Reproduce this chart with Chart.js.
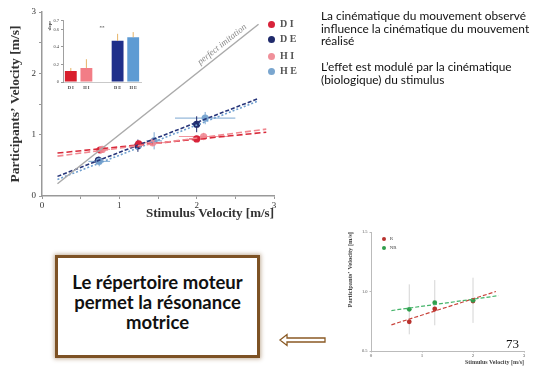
<!DOCTYPE html>
<html>
<head>
<meta charset="utf-8">
<script src="https://cdn.jsdelivr.net/npm/chart.js@4.4.1/dist/chart.umd.min.js"></script>
<style>
  body { margin: 0; background: #fff; width: 535px; height: 369px; overflow: hidden; position: relative; font-family: Lato, sans-serif; }
  .abs { position: absolute; }
  #mainWrap { left: 0; top: 0; width: 310px; height: 225px; }
  #insetWrap { left: 40px; top: 12px; width: 105px; height: 85px; }
  #smallWrap { left: 340px; top: 225px; width: 195px; height: 144px; }
  .legend { font-family: 'Liberation Serif', serif; font-weight: bold; color: #555; }
  .legend div { position: absolute; white-space: nowrap; }
  .legend span { display: inline-block; border-radius: 50%; vertical-align: middle; }
  #notes { left: 321px; top: 10px; font-size: 11.9px; line-height: 12.7px; color: #111; white-space: nowrap; }
  #notes p { margin: 0 0 12.7px 0; }
  #box { left: 55px; top: 255px; width: 199px; height: 97px; border: 3px solid #7d5224;
         box-shadow: 0 0 4px 1px rgba(125,82,36,0.45); font-weight: bold; font-size: 18.5px;
         line-height: 20px; text-align: center; color: #111; display: flex; align-items: center; justify-content: center; }
  #box div { margin-bottom: 10px; }
  #page { left: 506px; top: 336px; font-family: 'Liberation Serif', serif; font-size: 13px; color: #111; }
</style>
</head>
<body>
<div id="mainWrap" class="abs"><canvas id="mainChart"></canvas></div>
<div id="insetWrap" class="abs"><canvas id="insetChart"></canvas></div>
<div id="smallWrap" class="abs"><canvas id="smallChart"></canvas></div>

<div class="legend abs" style="left:268px;top:18px;font-size:10px;">
  <div style="top:0px"><span style="width:7px;height:7px;background:#d8233a"></span>&nbsp; D I</div>
  <div style="top:15px"><span style="width:7px;height:7px;background:#1f2a6b"></span>&nbsp; D E</div>
  <div style="top:32px"><span style="width:7px;height:7px;background:#f0909a"></span>&nbsp; H I</div>
  <div style="top:47px"><span style="width:7px;height:7px;background:#7aa6cf"></span>&nbsp; H E</div>
</div>
<div class="legend abs" style="left:382px;top:236px;font-size:5px;font-weight:normal;color:#444">
  <div style="top:0px"><span style="width:4px;height:4px;background:#b8322e"></span>&nbsp;&nbsp; R</div>
  <div style="top:9px"><span style="width:4px;height:4px;background:#2f9e4c"></span>&nbsp;&nbsp; NR</div>
</div>

<div id="notes" class="abs">
  <p>La cinématique du mouvement observé<br>influence la cinématique du mouvement<br>réalisé</p>
  <p>L’effet est modulé par la cinématique<br>(biologique) du stimulus</p>
</div>
<div id="box" class="abs"><div>Le répertoire moteur<br>permet la résonance<br>motrice</div></div>
<svg class="abs" style="left:278px;top:333px" width="50" height="14">
  <polygon points="2,7 9,1.5 9,5 47,5 47,9 9,9 9,12.5" fill="#fff" stroke="#8a5a24" stroke-width="1.3"/>
</svg>
<div id="page" class="abs">73</div>

<script>
// main plot: stimulus vs participants' velocity
const diX = [0.75, 1.25, 2.0],  diY = [0.75, 0.85, 0.93];
const deX = [0.73, 1.24, 2.0],  deY = [0.58, 0.82, 1.17];
const hiX = [0.78, 1.43, 2.09], hiY = [0.76, 0.87, 0.97];
const heX = [0.74, 1.45, 2.11], heY = [0.565, 0.90, 1.27];
// error half-widths
const diXErr = [0.05, 0.05, 0.1],  diYErr = [0.04, 0.04, 0.05];
const deXErr = [0.05, 0.05, 0.05], deYErr = [0.06, 0.1, 0.13];
const hiXErr = [0.1, 0.2, 0.32],   hiYErr = [0.05, 0.06, 0.06];
const heXErr = [0.14, 0.1, 0.39],  heYErr = [0.08, 0.14, 0.1];
// regression lines (start, end)
const fitDIx = [0.2, 2.9], fitDIy = [0.70, 1.04];
const fitHIx = [0.2, 2.9], fitHIy = [0.65, 1.09];
const fitDEx = [0.2, 2.8], fitDEy = [0.32, 1.59];
const fitHEx = [0.2, 2.8], fitHEy = [0.27, 1.55];
const idealX = [0.2, 2.8], idealY = [0.2, 2.8];
const mainTicks = [0, 1, 2, 3];

// inset: slopes
const slopeLabels = ['D I', 'H I', '', 'D E', 'H E'];
const slopeVals = [0.125, 0.16, null, 0.47, 0.51];
const slopeErrTop = [0.16, 0.26, null, 0.55, 0.57];

// small plot: R / NR
const rX = [0.75, 1.25, 2.0],  rY = [0.745, 0.853, 0.92];
const nrX = [0.75, 1.25, 2.0], nrY = [0.85, 0.906, 0.926];
const nrYErr = [0.21, 0.19, 0.19];
const fitRx = [0.4, 2.45], fitRy = [0.72, 1.0];
const fitNRx = [0.4, 2.5], fitNRy = [0.84, 0.965];

const pts = (xs, ys) => xs.map((x, i) => ({ x, y: ys[i] }));
const serif = 'Liberation Serif';

const errorBars = {
  id: 'errorBars',
  beforeDatasetsDraw(chart) {
    const { ctx, scales: { x, y } } = chart;
    chart.data.datasets.forEach(ds => {
      if (!ds.errX && !ds.errY) return;
      ctx.save();
      ctx.strokeStyle = ds.errColor || ds.backgroundColor;
      ctx.lineWidth = 1;
      ds.data.forEach((p, i) => {
        const px = x.getPixelForValue(p.x), py = y.getPixelForValue(p.y);
        if (ds.errX) {
          ctx.beginPath();
          ctx.moveTo(x.getPixelForValue(p.x - ds.errX[i]), py);
          ctx.lineTo(x.getPixelForValue(p.x + ds.errX[i]), py);
          ctx.stroke();
        }
        if (ds.errY) {
          ctx.beginPath();
          ctx.moveTo(px, y.getPixelForValue(p.y - ds.errY[i]));
          ctx.lineTo(px, y.getPixelForValue(p.y + ds.errY[i]));
          ctx.stroke();
        }
      });
      ctx.restore();
    });
  }
};

const idealLabel = {
  id: 'idealLabel',
  afterDatasetsDraw(chart) {
    const { ctx, scales: { x, y } } = chart;
    const px = x.getPixelForValue(2.33), py = y.getPixelForValue(2.47);
    const ang = Math.atan2(y.getPixelForValue(0) - y.getPixelForValue(1), x.getPixelForValue(1) - x.getPixelForValue(0));
    ctx.save();
    ctx.translate(px, py);
    ctx.rotate(-ang);
    ctx.font = 'italic 9px ' + serif;
    ctx.fillStyle = '#888';
    ctx.textAlign = 'center';
    ctx.textBaseline = 'middle';
    ctx.fillText('perfect imitation', 0, 0);
    ctx.restore();
  }
};

const fitLine = (xs, ys, color, dash, width) => ({
  data: pts(xs, ys), showLine: true, borderColor: color, borderWidth: width || 1.6,
  borderDash: dash, pointRadius: 0, backgroundColor: color
});
const dots = (xs, ys, color, ex, ey, r) => ({
  data: pts(xs, ys), showLine: false, backgroundColor: color, borderColor: color,
  pointRadius: r || 3.6, pointBorderWidth: 0, errX: ex, errY: ey,
  errColor: color
});

const intOnly = v => (Number.isInteger(v) && mainTicks.includes(v)) ? String(v) : '';

new Chart(document.getElementById('mainChart'), {
  type: 'scatter',
  data: {
    datasets: [
      fitLine(idealX, idealY, '#aaaaaa', [], 1.5),
      fitLine(fitHIx, fitHIy, '#f08890', [6, 3]),
      fitLine(fitDIx, fitDIy, '#d82a3a', [6, 3]),
      fitLine(fitHEx, fitHEy, '#6f9fcf', [2, 2]),
      fitLine(fitDEx, fitDEy, '#27357a', [4, 2]),
      dots(hiX, hiY, 'rgba(240,136,148,0.9)', hiXErr, hiYErr),
      dots(heX, heY, 'rgba(118,163,207,0.95)', heXErr, heYErr),
      dots(diX, diY, '#d8233a', diXErr, diYErr),
      dots(deX, deY, '#1f2a6b', deXErr, deYErr)
    ]
  },
  options: {
    responsive: true, maintainAspectRatio: false, animation: false,
    layout: { padding: { top: 12, right: 36, left: 0, bottom: 0 } },
    plugins: { legend: { display: false }, tooltip: { enabled: false } },
    scales: {
      x: {
        min: 0, max: 3,
        ticks: { stepSize: 0.5, autoSkip: false, maxRotation: 0, callback: intOnly, padding: 1,
                 font: { family: serif, size: 9 }, color: '#333' },
        grid: { drawOnChartArea: false, tickLength: 3, color: '#999' },
        border: { color: '#999', width: 1.5 },
        title: { display: true, text: 'Stimulus Velocity [m/s]', align: 'end', padding: { top: 0, bottom: 4 },
                 font: { family: serif, size: 13, weight: 'bold' }, color: '#333' },
        afterFit: s => { s.height = 29; }
      },
      y: {
        min: 0, max: 3,
        ticks: { stepSize: 0.5, autoSkip: false, callback: intOnly, padding: 3,
                 font: { family: serif, size: 9 }, color: '#333' },
        grid: { drawOnChartArea: false, tickLength: 3, color: '#999' },
        border: { color: '#999', width: 1.5 },
        title: { display: true, text: 'Participants\u2019 Velocity [m/s]', padding: { top: 7, bottom: 0 },
                 font: { family: serif, size: 13.5, weight: 'bold' }, color: '#333' },
        afterFit: s => { s.width = 42; }
      }
    }
  },
  plugins: [errorBars, idealLabel]
});

const insetErr = {
  id: 'insetErr',
  afterDatasetsDraw(chart) {
    const { ctx, scales: { x, y } } = chart;
    ctx.save();
    ctx.strokeStyle = '#e0a040';
    ctx.lineWidth = 0.8;
    slopeVals.forEach((v, i) => {
      if (v === null) return;
      const px = x.getPixelForValue(i);
      ctx.beginPath();
      ctx.moveTo(px, y.getPixelForValue(v));
      ctx.lineTo(px, y.getPixelForValue(slopeErrTop[i]));
      ctx.stroke();
    });
    ctx.font = 'bold 5px ' + serif;
    ctx.fillStyle = '#555';
    ctx.textAlign = 'center';
    ctx.fillText('**', x.getPixelForValue(2), y.getPixelForValue(0.6));
    ctx.restore();
  }
};

new Chart(document.getElementById('insetChart'), {
  type: 'bar',
  data: {
    labels: slopeLabels,
    datasets: [{
      data: slopeVals,
      backgroundColor: ['#d81e2c', '#f27d86', '#000', '#1f2f8a', '#5e9bd3'],
      barPercentage: 0.8, categoryPercentage: 0.95
    }]
  },
  options: {
    responsive: true, maintainAspectRatio: false, animation: false,
    layout: { padding: { top: 8.7, right: 4, left: 0, bottom: 0 } },
    plugins: { legend: { display: false }, tooltip: { enabled: false } },
    scales: {
      x: {
        ticks: { font: { family: serif, size: 4.5, weight: 'bold' }, color: '#444', padding: 3 },
        grid: { display: false, drawTicks: false, tickLength: 0 },
        border: { color: '#bbb', width: 0.8 },
        afterFit: s => { s.height = 15; }
      },
      y: {
        min: 0, max: 0.7,
        ticks: { stepSize: 0.2, font: { family: serif, size: 4.5 }, color: '#444', padding: 2,
                 callback: v => v === 0 ? '0' : v.toFixed(1) },
        grid: { drawOnChartArea: false, tickLength: 2, color: '#999' },
        border: { color: '#888', width: 0.8 },
        title: { display: true, text: 'slope', align: 'end', padding: { top: 7, bottom: 0 },
                 font: { family: serif, size: 4.5, weight: 'bold' }, color: '#444' },
        afterFit: s => { s.width = 23; }
      }
    }
  },
  plugins: [insetErr]
});

new Chart(document.getElementById('smallChart'), {
  type: 'scatter',
  data: {
    datasets: [
      fitLine(fitNRx, fitNRy, '#45b46a', [4, 2], 1.2),
      fitLine(fitRx, fitRy, '#c9443c', [4, 2], 1.2),
      Object.assign(dots(nrX, nrY, '#2f9e4c', null, nrYErr, 2.4), { errColor: '#d4d4d4' }),
      dots(rX, rY, '#b8322e', null, null, 2.4)
    ]
  },
  options: {
    responsive: true, maintainAspectRatio: false, animation: false,
    layout: { padding: { top: 7, right: 11, left: 0, bottom: 0 } },
    plugins: { legend: { display: false }, tooltip: { enabled: false } },
    scales: {
      x: {
        min: 0, max: 3,
        ticks: { stepSize: 1, font: { family: serif, size: 5 }, color: '#555', padding: 0 },
        grid: { drawOnChartArea: false, tickLength: 1.5, color: '#bbb' },
        border: { color: '#bbb', width: 1 },
        title: { display: true, text: 'Stimulus Velocity [m/s]', align: 'end', padding: { top: 0, bottom: 3 },
                 font: { family: serif, size: 6, weight: 'bold' }, color: '#444' },
        afterFit: s => { s.height = 18; }
      },
      y: {
        min: 0.5, max: 1.5,
        ticks: { stepSize: 0.5, font: { family: serif, size: 4.5 }, color: '#555', padding: 2 },
        grid: { drawOnChartArea: false, tickLength: 1.5, color: '#bbb' },
        border: { color: '#bbb', width: 1 },
        title: { display: true, text: 'Participants\u2019 Velocity [m/s]', align: 'end', padding: { top: 6, bottom: 0 },
                 font: { family: serif, size: 6.5, weight: 'bold' }, color: '#444' },
        afterFit: s => { s.width = 31; }
      }
    }
  },
  plugins: [errorBars]
});
</script>
</body>
</html>
